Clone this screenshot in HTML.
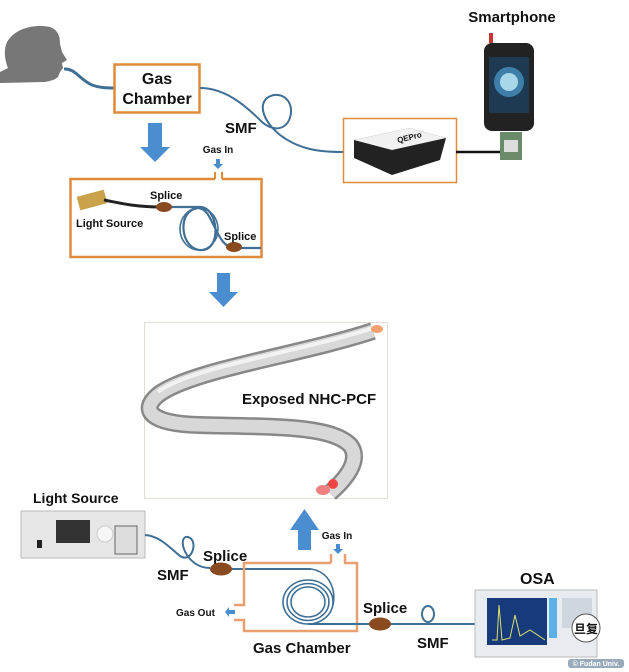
<!DOCTYPE html>
<html><head><meta charset="utf-8"><style>
html,body{margin:0;padding:0;background:#fff;}
svg{display:block;}
text{font-family:"Liberation Sans",sans-serif;font-weight:bold;fill:#111;}
</style></head><body>
<svg width="629" height="672" viewBox="0 0 629 672" xmlns="http://www.w3.org/2000/svg">
<!-- head -->
<path d="M0,72 L8,68 C4,58 3,45 10,38 C18,28 35,24 50,27 C58,30 60,36 60,44 L62,52 L67,60 L62,63 L63,68 L60,72 L58,77 C55,80 50,81 45,82 L0,83 Z" fill="#777"/>
<path d="M64,69 C75,68 80,80 92,85 C100,88 108,88 114,88" stroke="#3f6f94" stroke-width="3" fill="none"/>
<!-- top gas chamber -->
<rect x="114.5" y="64.5" width="85" height="48" fill="#fff" stroke="#e08a3c" stroke-width="2.5"/>
<text x="157" y="84" font-size="16" text-anchor="middle">Gas</text>
<text x="157" y="104" font-size="16" text-anchor="middle">Chamber</text>
<!-- SMF fiber top -->
<path d="M200,88 C225,88 245,105 262,122 C276,134 290,128 291,112 C292,98 278,90 267,98 C258,106 264,122 280,135 C300,150 320,152 343,152" stroke="#3f6f94" stroke-width="2" fill="none"/>
<text x="225" y="133" font-size="15">SMF</text>
<!-- QE Pro box -->
<rect x="343.5" y="118.5" width="113" height="64" fill="#fff" stroke="#e08a3c" stroke-width="1.5"/>
<path d="M354,140 L410,128 L446,138 L440,160 L392,175 L354,158 Z" fill="#222"/>
<path d="M354,140 L410,128 L446,138 L392,150 Z" fill="#f1f1f1"/>
<text x="398" y="143" font-size="8" fill="#345" transform="rotate(-14 398 143)" font-weight="normal">QEPro</text>
<line x1="456" y1="152" x2="500" y2="152" stroke="#111" stroke-width="2.5"/>
<!-- phone -->
<rect x="489" y="33" width="4" height="10" fill="#c33"/>
<rect x="484" y="43" width="50" height="88" rx="8" fill="#222"/>
<rect x="489" y="57" width="40" height="56" fill="#1d3a52"/>
<circle cx="509" cy="82" r="15" fill="#3d7fa8"/><circle cx="509" cy="82" r="9" fill="#a8d8e8"/>
<rect x="500" y="132" width="22" height="28" fill="#6a8a6a"/><rect x="504" y="140" width="14" height="12" fill="#ddd"/>
<text x="512" y="22" font-size="15" text-anchor="middle">Smartphone</text>
<!-- down arrow 1 -->
<path d="M148,123 H162 V147 H170 L155,162 L140,147 H148 Z" fill="#4a8ed0"/>
<!-- middle box -->
<path d="M215,179 H70.5 V257 H261.5 V179 H222" fill="none" stroke="#e08a3c" stroke-width="2.5"/>
<line x1="215" y1="179" x2="215" y2="172" stroke="#e08a3c" stroke-width="2"/><line x1="222" y1="179" x2="222" y2="172" stroke="#e08a3c" stroke-width="2"/>
<text x="218" y="153" font-size="10" text-anchor="middle">Gas In</text>
<path d="M216,159 H220 V164 H223 L218,169 L213,164 H216 Z" fill="#4a8ed0"/>
<rect x="78" y="193" width="28" height="14" fill="#c9a24a" transform="rotate(-15 92 200)"/>
<path d="M104,200 C120,203 135,207 160,207" stroke="#222" stroke-width="3" fill="none"/>
<path d="M160,207 H200 C218,207 222,248 203,250 C180,252 176,210 198,208 C214,208 215,248 235,248 L261,248" stroke="#3f6f94" stroke-width="2.2" fill="none"/>
<ellipse cx="199" cy="229" rx="19" ry="21" stroke="#3f6f94" stroke-width="1.6" fill="none"/>
<ellipse cx="164" cy="207" rx="8" ry="5" fill="#8a4a20"/>
<ellipse cx="234" cy="247" rx="8" ry="5" fill="#8a4a20"/>
<text x="150" y="199" font-size="11">Splice</text>
<text x="224" y="240" font-size="11">Splice</text>
<text x="76" y="227" font-size="11">Light Source</text>
<!-- down arrow 2 -->
<path d="M217,273 H230 V292 H238 L223.5,307 L209,292 H217 Z" fill="#4a8ed0"/>
<!-- fiber image box -->
<rect x="144.5" y="322.5" width="243" height="176" fill="#fff" stroke="#e3dcd4" stroke-width="1"/>
<path d="M373,331 C300,355 190,370 158,395 C140,410 150,424 200,425 C270,427 330,425 350,445 C362,460 345,480 330,493" stroke="#888" stroke-width="18" fill="none"/>
<path d="M373,331 C300,355 190,370 158,395 C140,410 150,424 200,425 C270,427 330,425 350,445 C362,460 345,480 330,493" stroke="#d8d8d8" stroke-width="13" fill="none"/>
<path d="M373,328 C300,352 190,367 158,392" stroke="#f2f2f2" stroke-width="4" fill="none"/>
<ellipse cx="377" cy="329" rx="6" ry="4" fill="#f4a070"/>
<ellipse cx="323" cy="490" rx="7" ry="5" fill="#f08080"/>
<circle cx="333" cy="484" r="5" fill="#e44"/>
<text x="242" y="404" font-size="15">Exposed NHC-PCF</text>
<!-- bottom light source -->
<text x="33" y="503" font-size="14">Light Source</text>
<rect x="21" y="511" width="124" height="47" fill="#e6e6e6" stroke="#bbb"/>
<rect x="56" y="520" width="34" height="23" fill="#333"/>
<circle cx="105" cy="534" r="8" fill="#f6f6f6" stroke="#ccc"/>
<rect x="115" y="526" width="22" height="28" fill="#ddd" stroke="#666"/>
<rect x="37" y="540" width="5" height="8" fill="#222"/>
<path d="M145,535 C160,536 170,548 180,556 C192,564 199,540 188,537 C176,535 185,568 210,568" stroke="#3f6f94" stroke-width="2" fill="none"/>
<path d="M220,569 H311" stroke="#3f6f94" stroke-width="2" fill="none"/>
<text x="203" y="561" font-size="15">Splice</text>
<text x="157" y="580" font-size="15">SMF</text>
<ellipse cx="221" cy="569" rx="11" ry="6.5" fill="#8a4a20"/>
<!-- up arrow -->
<path d="M298,550 H311 V530 H319 L304.5,509 L290,530 H298 Z" fill="#4a8ed0"/>
<text x="337" y="539" font-size="10" text-anchor="middle">Gas In</text>
<path d="M336,544 H340 V549 H343 L338,554 L333,549 H336 Z" fill="#4a8ed0"/>
<!-- bottom chamber -->
<path d="M331,563 H244 V605 H234" fill="none" stroke="#e8a070" stroke-width="2.5"/>
<path d="M234,620 H244 V631 H357 V563 H345 V554" fill="none" stroke="#e8a070" stroke-width="2.5"/>
<line x1="331" y1="563" x2="331" y2="554" stroke="#e8a070" stroke-width="2.5"/>
<text x="176" y="616" font-size="10">Gas Out</text>
<path d="M235,610 V614 L229,614 L229,617 L225,612 L229,607 L229,610 Z" fill="#4a8ed0"/>
<path d="M311,569 C330,572 336,590 333,605" stroke="#3f6f94" stroke-width="1.6" fill="none"/>
<ellipse cx="308" cy="602" rx="25" ry="22" stroke="#3f6f94" stroke-width="1.6" fill="none"/>
<ellipse cx="308" cy="602" rx="21" ry="18.5" stroke="#3f6f94" stroke-width="1.6" fill="none"/>
<ellipse cx="308" cy="602" rx="17" ry="15" stroke="#3f6f94" stroke-width="1.6" fill="none"/>
<path d="M308,624 H475" stroke="#3f6f94" stroke-width="2" fill="none"/>
<ellipse cx="380" cy="624" rx="11" ry="6.5" fill="#8a4a20"/>
<ellipse cx="428" cy="614" rx="6" ry="8" stroke="#3f6f94" stroke-width="2" fill="#fff"/>
<text x="363" y="613" font-size="15">Splice</text>
<text x="417" y="648" font-size="15">SMF</text>
<text x="253" y="653" font-size="15">Gas Chamber</text>
<!-- OSA -->
<text x="520" y="584" font-size="16">OSA</text>
<rect x="475" y="590" width="122" height="67" fill="#e8ebef" stroke="#bbb"/>
<rect x="487" y="598" width="60" height="47" fill="#173a7a"/>
<path d="M492,640 L497,640 L499,605 L502,640 L510,638 L515,615 L520,636 L530,630 L545,640" stroke="#dde070" stroke-width="1" fill="none"/>
<rect x="549" y="598" width="8" height="40" fill="#5ab0e8"/>
<rect x="562" y="598" width="30" height="30" fill="#d0d6de"/>
<circle cx="586" cy="628" r="14" fill="#fff" stroke="#555"/>
<text x="586" y="633" font-size="12" text-anchor="middle" font-weight="normal" style="font-family:'Noto Sans CJK SC',sans-serif">旦复</text>
<rect x="568" y="659" width="56" height="9" rx="3" fill="#9ab"/>
<text x="596" y="666" font-size="7" text-anchor="middle" font-weight="normal" style="fill:#fff">© Fudan Univ.</text>
</svg>
</body></html>
